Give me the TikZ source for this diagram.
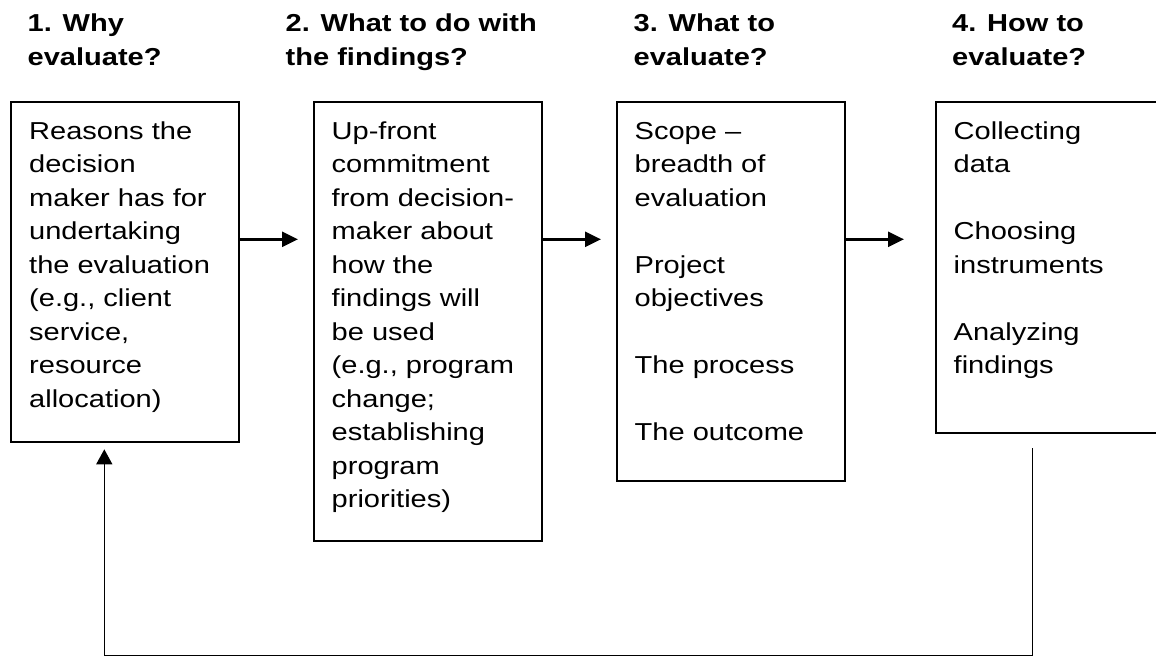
\documentclass[tikz,border=0pt]{standalone}
\usepackage{fontspec}
\setmainfont{Liberation Sans}[FakeStretch=1.185]
\usetikzlibrary{arrows.meta}
\begin{document}
\begin{tikzpicture}[x=1pt,y=-1pt,
  box/.style={draw,line width=2.3pt,inner sep=0pt,anchor=north west},
  body/.style={anchor=base west,inner sep=0pt,align=left,
    font=\fontsize{24.5}{33.5}\selectfont},
  heading/.style={body,font=\fontsize{24.5}{33.5}\selectfont\bfseries},
  flow/.style={line width=2.6pt,-{Triangle[length=16pt,width=15pt]}},
  feedback/.style={line width=1.4pt,-{Triangle[length=15pt,width=16pt]}}]

\fill[white] (0,0) rectangle (1156,656);
\useasboundingbox (0,0) rectangle (1156,656);

% column headings (anchored on their last line)
\node[heading] (h1) at (27.5,65.2) {1. Why\\evaluate?};
\node[heading] (h2) at (285.5,65.2) {2. What to do with\\the findings?};
\node[heading] (h3) at (633.5,65.2) {3. What to\\evaluate?};
\node[heading] (h4) at (952,65.2) {4. How to\\evaluate?};

% frames
\node[box,minimum width=228pt,minimum height=340pt] (b1) at (10,101) {};
\node[box,minimum width=228pt,minimum height=439pt] (b2) at (313,101) {};
\node[box,minimum width=228pt,minimum height=379pt] (b3) at (616,101) {};
\node[box,minimum width=225pt,minimum height=331pt] (b4) at (935,101) {};

% frame contents (anchored on their last line)
\node[body] (t1) at (29,407.3) {Reasons the\\decision\\maker has for\\undertaking\\the evaluation\\(e.g., client\\service,\\resource\\allocation)};
\node[body] (t2) at (331.5,507.8) {Up-front\\commitment\\from decision-\\maker about\\how the\\findings will\\be used\\(e.g., program\\change;\\establishing\\program\\priorities)};
\node[body] (t3) at (634.5,440.8) {Scope –\\breadth of\\evaluation\\[33.5pt]Project\\objectives\\[33.5pt]The process\\[33.5pt]The outcome};
\node[body] (t4) at (953.5,373.8) {Collecting\\data\\[33.5pt]Choosing\\instruments\\[33.5pt]Analyzing\\findings};

% forward arrows
\coordinate (a1) at (298,239.3);
\coordinate (a2) at (601,239.3);
\coordinate (a3) at (904,239.3);
\draw[flow] (b1.east |- a1) -- (a1);
\draw[flow] (b2.east |- a2) -- (a2);
\draw[flow] (b3.east |- a3) -- (a3);

% feedback loop back to the first frame
\coordinate (fs) at (1032.3,448);
\coordinate (fe) at (104.3,449.3);
\coordinate (base) at (0,655.6);
\draw[feedback] (fs) -- (fs |- base) -| (fe);
\end{tikzpicture}
\end{document}
